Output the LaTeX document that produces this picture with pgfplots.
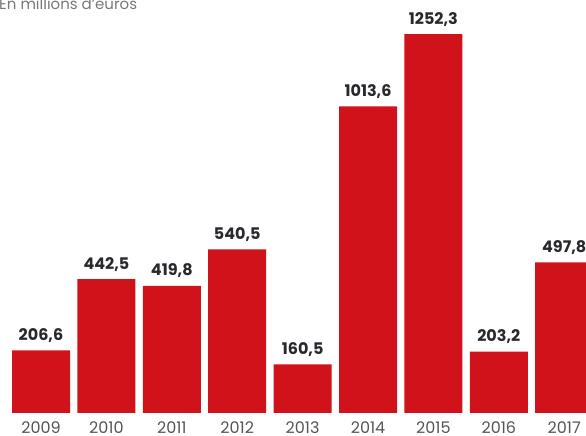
\documentclass[border=0pt]{standalone}
\usepackage{pgfplots}
\pgfplotsset{compat=1.18}
\usepackage{fontspec}
\setmainfont{Poppins}
\definecolor{barred}{RGB}{208,18,26}
\definecolor{yeargray}{RGB}{85,85,85}
\definecolor{titlegray}{RGB}{120,120,120}
\definecolor{valdark}{RGB}{40,40,45}
\begin{document}
\begin{tikzpicture}
\path[use as bounding box, clip] (0,0) rectangle (586pt,436pt);
\begin{axis}[
  at={(0pt,23pt)}, anchor=south west,
  scale only axis, width=586pt, height=413pt,
  xmin=-0.627, xmax=8.333, ymin=0, ymax=1365,
  axis line style={draw=none}, major tick style={draw=none},
  ytick=\empty,
  xtick={0,...,8},
  xticklabels={2009,2010,2011,2012,2013,2014,2015,2016,2017},
  xticklabel style={font=\fontsize{16}{16}\selectfont, text=yeargray, anchor=base, inner sep=0pt, yshift=-16pt},
  ybar, bar width=58pt, bar shift=0pt,
  nodes near coords={\pgfmathprintnumber[fixed,fixed zerofill,precision=1,use comma,set thousands separator={},assume math mode=true]{\pgfplotspointmeta}},
  every node near coord/.append style={font=\bfseries\fontsize{16}{16}\selectfont, text=valdark, anchor=base, yshift=10pt},
]
\addplot[fill=barred, draw=none] coordinates {
 (0,206.6) (1,442.5) (2,419.8) (3,540.5) (4,160.5) (5,1013.6) (6,1252.3) (7,203.2) (8,497.8)
};
\end{axis}
\node[anchor=base west, font=\fontsize{15}{15}\selectfont, text=titlegray, inner sep=0pt] at (-1pt,426pt) {En millions d'euros};
\end{tikzpicture}
\end{document}
